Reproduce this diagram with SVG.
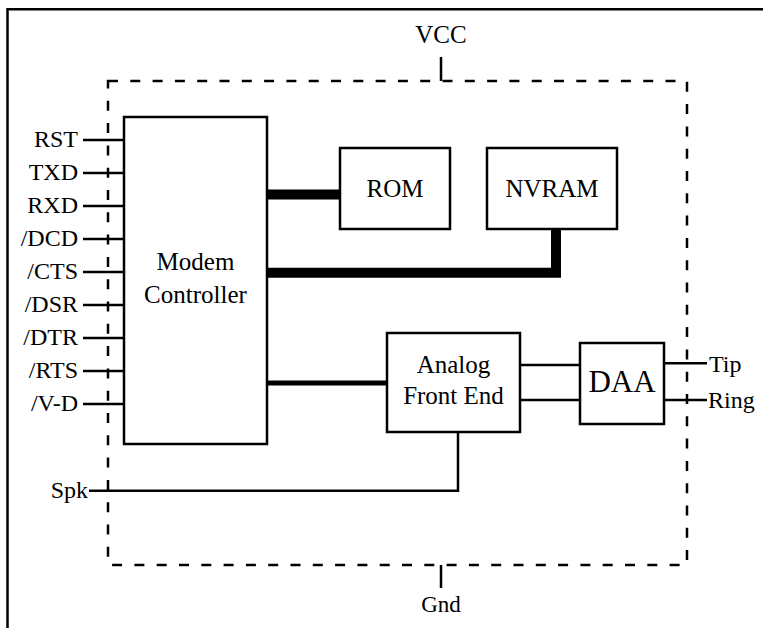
<svg xmlns="http://www.w3.org/2000/svg" width="763" height="628" viewBox="0 0 763 628">
<style>
text{font-family:"Liberation Serif","Times New Roman",serif;fill:#000}
.box{fill:#fff;stroke:#000;stroke-width:2.5}
.w{fill:none;stroke:#000;stroke-width:2.5}
.bus{fill:none;stroke:#000;stroke-width:10;stroke-linejoin:miter;stroke-linecap:butt}
.lbl{font-size:24px}
.end{text-anchor:end}
.mid{text-anchor:middle}
</style>
<rect width="763" height="628" fill="#fff"/>
<g id="frame">
<path d="M7.5 628 V9.3 H763" class="w"/>
</g>
<g id="boundary">
<path d="M108 81 H687 V565 H108 Z" fill="none" stroke="#000" stroke-width="2.5" stroke-dasharray="10 12.3"/>
</g>
<g id="connectors">
<path d="M441 57 V81" class="w"/>
<path d="M441 565 V588" class="w"/>
<path d="M83 140 H124 M83 173 H124 M83 206 H124 M83 239 H124 M83 272 H124 M83 305 H124 M83 338 H124 M83 371 H124 M83 404 H124" class="w"/>
<path d="M267 194.5 H340" class="bus"/>
<path d="M267 272.7 H556 V229" class="bus"/>
<path d="M267 383 H387" class="w" style="stroke-width:5"/>
<path d="M520 365 H580 M520 400 H580" class="w"/>
<path d="M664 363.3 H707 M664 400 H707" class="w"/>
<path d="M458 432 V490.7 H89" class="w"/>
</g>
<g id="vcc"><text x="441" y="43" class="mid" font-size="25">VCC</text></g>
<g id="gnd"><text x="441" y="612" class="mid" font-size="23">Gnd</text></g>
<g id="signals">
<text x="78" y="147" class="lbl end">RST</text>
<text x="78" y="180" class="lbl end">TXD</text>
<text x="78" y="213" class="lbl end">RXD</text>
<text x="78" y="246" class="lbl end">/DCD</text>
<text x="78" y="279" class="lbl end">/CTS</text>
<text x="78" y="312" class="lbl end">/DSR</text>
<text x="78" y="345" class="lbl end">/DTR</text>
<text x="78" y="378" class="lbl end">/RTS</text>
<text x="78" y="411" class="lbl end">/V-D</text>
<text x="88" y="498" class="lbl end">Spk</text>
<text x="709" y="372" class="lbl" font-size="26">Tip</text>
<text x="708" y="408" class="lbl" font-size="26">Ring</text>
</g>
<g id="modem">
<rect x="124" y="117" width="143" height="327" class="box"/>
<text x="195.5" y="270" class="mid" font-size="25">Modem</text>
<text x="195.5" y="303" class="mid" font-size="25">Controller</text>
</g>
<g id="rom">
<rect x="340" y="148" width="110" height="81" class="box"/>
<text x="395" y="197" class="mid" font-size="25">ROM</text>
</g>
<g id="nvram">
<rect x="487" y="148" width="130" height="81" class="box"/>
<text x="552" y="197" class="mid" font-size="25">NVRAM</text>
</g>
<g id="afe">
<rect x="387" y="333" width="133" height="99" class="box"/>
<text x="453.5" y="373" class="mid" font-size="25">Analog</text>
<text x="453.5" y="404" class="mid" font-size="25">Front End</text>
</g>
<g id="daa">
<rect x="580" y="343" width="84" height="81" class="box"/>
<text x="622" y="392" class="mid" font-size="31">DAA</text>
</g>
</svg>
